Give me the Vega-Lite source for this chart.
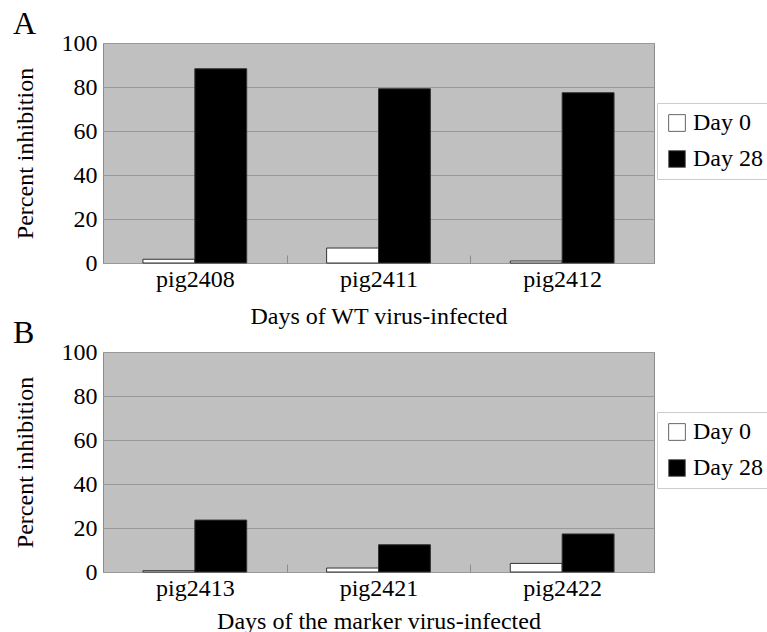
{
  "$schema": "https://vega.github.io/schema/vega-lite/v6.json",
  "padding": {"left": 12, "top": 7, "right": 0, "bottom": 0},
  "background": "white",
  "config": {
    "font": "Liberation Serif",
    "view": {"fill": "#c0c0c0", "stroke": "#8c8c8c", "strokeWidth": 1},
    "style": {
      "guide-label": {"font": "Liberation Serif", "fontSize": 24, "fill": "black"},
      "guide-title": {"font": "Liberation Serif", "fontSize": 24, "fontWeight": "normal", "fill": "black"}
    },
    "axis": {"labelFont": "Liberation Serif", "titleFont": "Liberation Serif", "labelFontSize": 24, "titleFontSize": 24, "titleFontWeight": "normal", "labelColor": "black", "titleColor": "black"},
    "title": {"font": "Liberation Serif", "fontSize": 32, "fontWeight": "normal", "anchor": "start", "frame": "bounds", "color": "black"},
    "legend": {"labelFont": "Liberation Serif", "labelFontSize": 24, "labelColor": "black"}
  },
  "datasets": {
    "A": [
      {"pig": "pig2408", "day": "Day 0", "value": 1.7},
      {"pig": "pig2408", "day": "Day 28", "value": 88.3},
      {"pig": "pig2411", "day": "Day 0", "value": 6.8},
      {"pig": "pig2411", "day": "Day 28", "value": 79.2},
      {"pig": "pig2412", "day": "Day 0", "value": 0.9},
      {"pig": "pig2412", "day": "Day 28", "value": 77.4}
    ],
    "B": [
      {"pig": "pig2413", "day": "Day 0", "value": 0.6},
      {"pig": "pig2413", "day": "Day 28", "value": 23.6},
      {"pig": "pig2421", "day": "Day 0", "value": 1.8},
      {"pig": "pig2421", "day": "Day 28", "value": 12.4},
      {"pig": "pig2422", "day": "Day 0", "value": 3.9},
      {"pig": "pig2422", "day": "Day 28", "value": 17.3}
    ]
  },
  "spacing": -13,
  "resolve": {"scale": {"color": "independent"}, "legend": {"color": "independent"}},
  "vconcat": [
    {
      "title": {"text": "A", "offset": -10},
      "width": 551,
      "height": 220,
      "data": {"name": "A"},
      "mark": {"type": "bar", "stroke": "#333333", "strokeWidth": 1},
      "encoding": {
        "x": {"field": "pig", "type": "nominal", "sort": null,
          "scale": {"paddingInner": 0, "paddingOuter": 0},
          "axis": {"title": "Days of WT virus-infected", "labelAngle": 0, "tickBand": "extent", "tickSize": -8, "tickColor": "#8c8c8c", "domain": false, "labelPadding": 12, "titlePadding": 13}},
        "xOffset": {"field": "day", "type": "nominal", "sort": ["Day 0", "Day 28"], "scale": {"paddingOuter": 0.77, "paddingInner": 0}},
        "y": {"field": "value", "type": "quantitative", "scale": {"domain": [0, 100]},
          "axis": {"title": "Percent inhibition", "values": [0, 20, 40, 60, 80, 100], "ticks": false, "domain": false, "gridColor": "#999999", "gridWidth": 1, "gridOpacity": 1, "labelPadding": 6, "titlePadding": 24}},
        "color": {"field": "day", "type": "nominal",
          "scale": {"domain": ["Day 0", "Day 28"], "range": ["white", "black"]},
          "legend": {"title": null, "orient": "none", "legendX": 554, "legendY": 60, "fillColor": "white", "strokeColor": "#cccccc", "padding": 8, "rowPadding": 12, "symbolType": "square", "symbolSize": 280, "symbolStrokeColor": "#666666", "symbolStrokeWidth": 1, "labelOffset": 4}}
      }
    },
    {
      "title": {"text": "B", "offset": -10},
      "width": 551,
      "height": 220,
      "data": {"name": "B"},
      "mark": {"type": "bar", "stroke": "#333333", "strokeWidth": 1},
      "encoding": {
        "x": {"field": "pig", "type": "nominal", "sort": null,
          "scale": {"paddingInner": 0, "paddingOuter": 0},
          "axis": {"title": "Days of the marker virus-infected", "labelAngle": 0, "tickBand": "extent", "tickSize": -8, "tickColor": "#8c8c8c", "domain": false, "labelPadding": 12, "titlePadding": 9}},
        "xOffset": {"field": "day", "type": "nominal", "sort": ["Day 0", "Day 28"], "scale": {"paddingOuter": 0.77, "paddingInner": 0}},
        "y": {"field": "value", "type": "quantitative", "scale": {"domain": [0, 100]},
          "axis": {"title": "Percent inhibition", "values": [0, 20, 40, 60, 80, 100], "ticks": false, "domain": false, "gridColor": "#999999", "gridWidth": 1, "gridOpacity": 1, "labelPadding": 6, "titlePadding": 24}},
        "color": {"field": "day", "type": "nominal",
          "scale": {"domain": ["Day 0", "Day 28"], "range": ["white", "black"]},
          "legend": {"title": null, "orient": "none", "legendX": 554, "legendY": 60, "fillColor": "white", "strokeColor": "#cccccc", "padding": 8, "rowPadding": 12, "symbolType": "square", "symbolSize": 280, "symbolStrokeColor": "#666666", "symbolStrokeWidth": 1, "labelOffset": 4}}
      }
    }
  ]
}
